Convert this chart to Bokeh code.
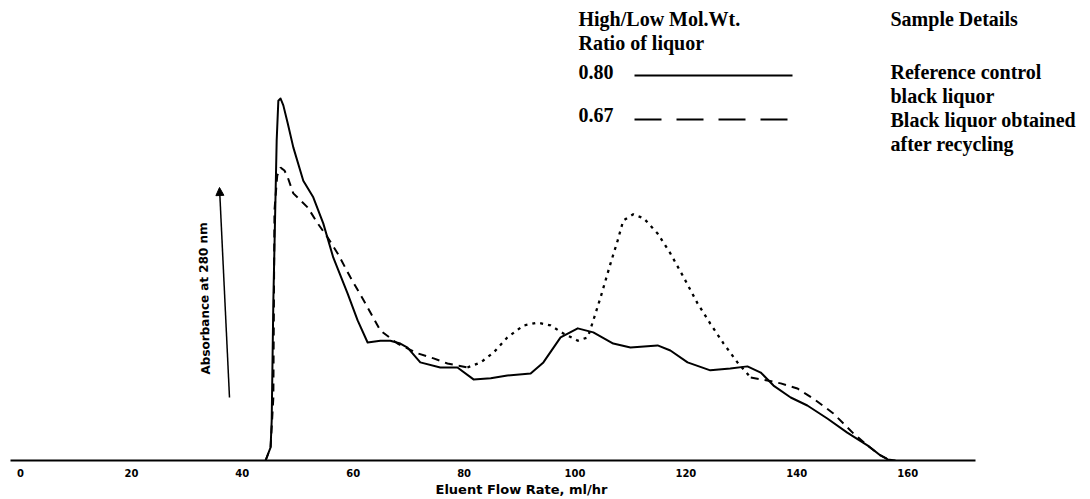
import numpy as np
from bokeh.plotting import figure
from bokeh.models import Range1d, FixedTicker, Label, Arrow, NormalHead, Title
from bokeh.embed import file_html
from bokeh.resources import INLINE

# ---- data ----
flow_control = [44.2, 45.1, 45.3, 45.6, 46.2, 46.5, 46.9, 47.4, 48.2, 49.2, 51.0, 52.8, 54.6,
                56.4, 59.0, 60.8, 62.6, 64.9, 66.7, 68.5, 69.8, 72.1, 75.7, 78.8, 81.7, 84.8,
                87.8, 92.0, 94.3, 97.4, 100.5, 103.3, 106.9, 110.0, 114.9, 117.2, 120.3, 124.4,
                128.0, 131.1, 133.5, 135.8, 138.9, 141.9, 145.5, 149.1, 152.8, 155.1, 156.4, 157.8]
abs_control = [0.0, 3.6, 11.0, 44.2, 88.4, 99.4, 100.0, 98.1, 93.1, 86.5, 77.3, 72.7, 65.5,
               56.1, 46.1, 38.7, 32.6, 33.1, 33.1, 32.3, 31.2, 27.1, 25.7, 25.7, 22.4, 22.7,
               23.5, 24.0, 27.1, 34.0, 36.5, 35.4, 32.3, 31.2, 31.8, 30.4, 27.1, 24.9,
               25.4, 26.0, 24.3, 20.7, 17.4, 15.2, 11.6, 7.7, 4.1, 1.4, 0.3, 0.0]

flow_recycled = [44.2, 45.1, 45.6, 45.8, 46.3, 46.9, 47.6, 48.2, 49.2, 51.8, 53.6, 55.4, 57.2,
                 59.5, 61.9, 64.9, 68.0, 71.6, 74.5, 77.0, 80.6, 83.0, 85.3, 87.8, 90.7, 93.2,
                 95.6, 97.9, 100.5, 102.3, 103.3, 104.6, 106.4, 107.7, 108.7, 110.5, 112.4,
                 114.9, 117.2, 119.6, 122.1, 124.4, 126.8, 129.3, 131.7, 134.7, 137.1, 140.1,
                 143.0, 146.6, 150.2, 152.8, 155.1, 156.9]
abs_recycled = [0.0, 3.6, 17.4, 69.1, 78.7, 80.9, 80.1, 78.2, 73.8, 69.9, 65.5, 61.6, 57.2,
                50.6, 44.2, 35.9, 32.3, 29.6, 28.2, 26.8, 25.7, 27.1, 29.8, 34.0, 37.3, 38.1,
                37.3, 35.1, 33.1, 34.0, 38.7, 45.0, 54.4, 60.8, 66.3, 68.0, 66.9,
                62.7, 57.2, 50.6, 43.4, 37.8, 32.3, 27.1, 22.9, 22.1, 21.3, 19.9,
                17.1, 13.0, 7.5, 4.1, 1.4, 0.0]

x_ticks = [0, 20, 40, 60, 80, 100, 120, 140, 160]
ratio_header = ["High/Low Mol.Wt.", "Ratio of liquor"]
ratio_values = ["0.80", "0.67"]
sample_header = "Sample Details"
sample_control = ["Reference control", "black liquor"]
sample_recycled = ["Black liquor obtained", "after recycling"]
x_title = "Eluent Flow Rate, ml/hr"
y_title = "Absorbance at 280 nm"

# ---- layout helpers (page pixel -> data, for annotations only) ----
XS = 5.545   # px per unit of flow rate
YS = 3.62    # px per unit of absorbance


def dx(px):
    return (px - 20) / XS


def dy(py):
    return (460 - py) / YS


p = figure(width=1090, height=499,
           x_range=Range1d(dx(10), dx(1090)), y_range=Range1d(0, dy(0)),
           output_backend="svg", toolbar_location=None,
           min_border_left=10, min_border_right=0, min_border_top=0, min_border_bottom=39)
p.outline_line_color = None
p.grid.visible = False
p.yaxis.visible = False

ax = p.xaxis[0]
ax.ticker = FixedTicker(ticks=x_ticks)
ax.bounds = (dx(10), dx(975))
ax.axis_line_width = 2
ax.axis_line_color = "black"
ax.major_tick_out = 0
ax.major_tick_in = 0
ax.minor_tick_out = 0
ax.minor_tick_in = 0
ax.major_label_text_font = "DejaVu Sans"
ax.major_label_text_font_style = "bold"
ax.major_label_text_font_size = "10px"
ax.major_label_text_color = "black"
ax.major_label_standoff = 8

p.add_layout(Title(text=x_title, align="left", offset=425, standoff=0,
                   text_font="DejaVu Sans", text_font_style="bold",
                   text_font_size="13px", text_color="black"), "below")

# ---- curves ----
p.line(flow_control, abs_control, line_color="black", line_width=2, line_join="round")

fr = np.array(flow_recycled)
ar = np.array(abs_recycled)
m1 = fr <= 80.6
m2 = (fr >= 80.6) & (fr <= 131.7)
m3 = fr >= 131.7
p.line(fr[m1], ar[m1], line_color="black", line_width=2, line_dash="8 6")
p.line(fr[m2], ar[m2], line_color="black", line_width=2.3, line_dash="3 5")
p.line(fr[m3], ar[m3], line_color="black", line_width=2, line_dash="8 6")

# ---- y-axis arrow and rotated label ----
p.add_layout(Arrow(end=NormalHead(size=8, fill_color="black", line_color="black"),
                   x_start=dx(229), y_start=dy(397), x_end=dx(219), y_end=dy(187),
                   line_color="black", line_width=1.5))
p.add_layout(Label(x=dx(204), y=dy(298), text=y_title, angle=np.pi / 2 + 0.02,
                   text_align="center", text_baseline="middle",
                   text_font="DejaVu Sans", text_font_style="bold",
                   text_font_size="12px", text_color="black"))

# ---- legend (custom, as in the reference) ----
serif = dict(text_font="Liberation Serif", text_font_style="bold", text_font_size="20px",
             text_color="black", text_align="left", text_baseline="middle")
c1, c2 = dx(578), dx(890)
p.add_layout(Label(x=c1, y=dy(18), text=ratio_header[0], **serif))
p.add_layout(Label(x=c1, y=dy(42), text=ratio_header[1], **serif))
p.add_layout(Label(x=c1, y=dy(71), text=ratio_values[0], **serif))
p.add_layout(Label(x=c1, y=dy(114), text=ratio_values[1], **serif))
p.add_layout(Label(x=c2, y=dy(18), text=sample_header, **serif))
p.add_layout(Label(x=c2, y=dy(71), text=sample_control[0], **serif))
p.add_layout(Label(x=c2, y=dy(95), text=sample_control[1], **serif))
p.add_layout(Label(x=c2, y=dy(119), text=sample_recycled[0], **serif))
p.add_layout(Label(x=c2, y=dy(143), text=sample_recycled[1], **serif))

p.line([dx(634), dx(792)], [dy(75), dy(75)], line_color="black", line_width=2)
p.line([dx(634), dx(788)], [dy(119), dy(119)], line_color="black", line_width=2,
       line_dash="27 15")

open("out.html", "w").write(file_html(p, INLINE))
